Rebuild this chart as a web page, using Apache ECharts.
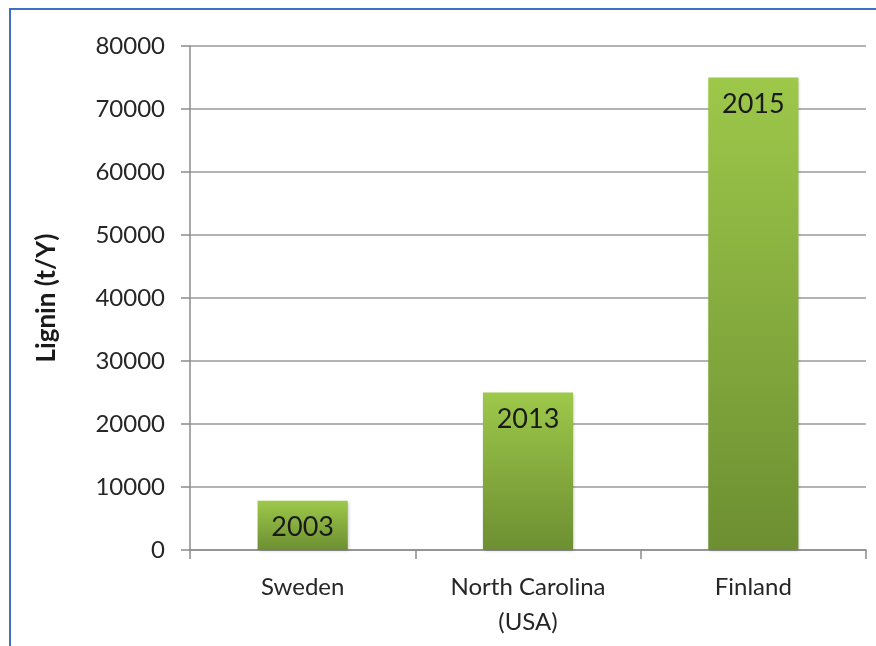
<!DOCTYPE html>
<html>
<head>
<meta charset="utf-8">
<script src="https://cdn.jsdelivr.net/npm/echarts@6/dist/echarts.min.js"></script>
<style>
  html, body { margin: 0; padding: 0; background: #fff; }
  #wrap { position: relative; width: 876px; height: 646px; overflow: hidden; }
  #ligninChart { width: 876px; height: 646px; }
  #frame {
    position: absolute; left: 9px; top: 8px; width: 900px; height: 700px;
    border-left: 2px solid #3f6fbf; border-top: 2px solid #3f6fbf;
    pointer-events: none;
  }
</style>
</head>
<body>
<div id="wrap">
  <div id="ligninChart"></div>
  <div id="frame"></div>
</div>
<script>
// data
var countries = ['Sweden', 'North Carolina\n(USA)', 'Finland'];
var lignin = [7800, 25000, 75000];
var startYears = ['2003', '2013', '2015'];

var chartDom = document.getElementById('ligninChart');
var myChart = echarts.init(chartDom);
var fontFam = 'Lato, "Noto Sans", sans-serif';

var option = {
    animation: false,
    textStyle: { fontFamily: fontFam },
    grid: { left: 190, right: 10, top: 46, bottom: 96 },
    xAxis: {
        type: 'category',
        data: countries,
        axisLine: { lineStyle: { color: '#8c8c8c', width: 1.5 } },
        axisTick: { show: true, length: 9, interval: 0, lineStyle: { color: '#8c8c8c', width: 1.5 } },
        axisLabel: {
            interval: 0, margin: 20, fontSize: 24, color: '#262626',
            lineHeight: 35, fontFamily: fontFam
        }
    },
    yAxis: {
        type: 'value',
        min: 0, max: 80000, interval: 10000,
        name: 'Lignin (t/Y)',
        nameLocation: 'middle',
        nameGap: 130,
        nameTextStyle: { fontSize: 26, fontWeight: 'bold', color: '#1a1a1a', fontFamily: fontFam },
        axisLine: { show: true, lineStyle: { color: '#8c8c8c', width: 1.5 } },
        axisTick: { show: true, length: 9, lineStyle: { color: '#8c8c8c', width: 1.5 } },
        axisLabel: {
            margin: 25, fontSize: 24, color: '#262626', fontFamily: fontFam,
            formatter: function (v) { return String(v); }
        },
        splitLine: { lineStyle: { color: '#9a9a9a', width: 1.5 } }
    },
    series: [{
        type: 'bar',
        barWidth: '40%',
        data: lignin,
        itemStyle: {
            color: new echarts.graphic.LinearGradient(0, 0, 0, 1, [
                { offset: 0, color: '#9dc84a' },
                { offset: 1, color: '#6d8f32' }
            ]),
            shadowColor: 'rgba(0,0,0,0.25)',
            shadowBlur: 3,
            shadowOffsetX: 1,
            shadowOffsetY: 1
        },
        label: {
            show: true,
            position: 'insideTop',
            distance: 13,
            fontSize: 27,
            color: '#1a1a1a',
            fontFamily: fontFam,
            formatter: function (p) { return startYears[p.dataIndex]; }
        }
    }]
};

myChart.setOption(option);
</script>
</body>
</html>
